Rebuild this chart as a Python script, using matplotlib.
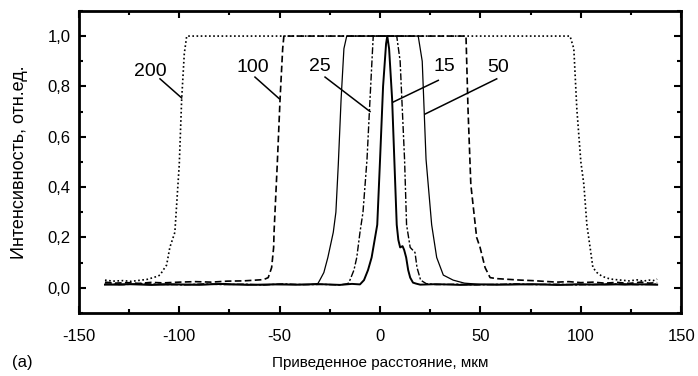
import matplotlib.pyplot as plt
from matplotlib.ticker import MultipleLocator, FuncFormatter

plt.rcParams['font.family'] = ['Liberation Sans', 'DejaVu Sans']
plt.rcParams['axes.unicode_minus'] = False

# profile "200" (dotted)
x200 = [-137, -133, -128, -124, -120, -116, -113, -111, -109.6, -108, -106.3, -104.7,
        -102.2, -100, -98.8, -97.5, -96.3, 0, 94.6, 96.5, 98, 100, 101.5, 103, 104.6,
        106, 108, 110.4, 113, 116, 120, 124, 128, 131, 134, 136, 138]
y200 = [0.03, 0.026, 0.028, 0.025, 0.029, 0.033, 0.04, 0.045, 0.05, 0.07, 0.09, 0.16,
        0.22, 0.49, 0.75, 0.93, 1.0, 1.0, 1.0, 0.95, 0.71, 0.5, 0.41, 0.25, 0.16,
        0.08, 0.06, 0.046, 0.038, 0.033, 0.03, 0.027, 0.031, 0.026, 0.03, 0.028, 0.034]

# profile "100" (dashed)
x100 = [-137, -132, -126, -120, -114, -108, -100, -92, -84, -76, -68, -62, -58, -55.7,
        -54, -53, -52.8, -51.2, -49.8, -48.5, -47.9, 0, 42.8, 43.8, 45.2, 48.1, 49.8,
        52.3, 54.8, 58, 64, 70, 76, 82, 88, 94, 100, 106, 112, 118, 124, 130, 134, 138]
y100 = [0.022, 0.018, 0.02, 0.017, 0.021, 0.019, 0.022, 0.024, 0.022, 0.026, 0.027, 0.03,
        0.032, 0.04, 0.08, 0.16, 0.22, 0.49, 0.75, 0.95, 1.0, 1.0, 1.0, 0.71, 0.41, 0.2, 0.16,
        0.08, 0.04, 0.036, 0.033, 0.03, 0.028, 0.025, 0.022, 0.024, 0.02, 0.022, 0.018,
        0.021, 0.017, 0.022, 0.018, 0.02]

# profile "50" (thin solid)
x50 = [-137, -130, -122, -114, -106, -98, -90, -82, -74, -66, -58, -50, -42, -35, -31,
       -30, -28, -26, -23.3, -22, -20.8, -19.4, -18, -16.6, 0, 19, 21, 22.9, 25.7, 28.2,
       31.5, 36.4, 42, 50, 58, 66, 74, 82, 90, 98, 106, 114, 122, 130, 138]
y50 = [0.013, 0.011, 0.014, 0.012, 0.015, 0.012, 0.011, 0.014, 0.012, 0.013, 0.011, 0.014,
       0.012, 0.013, 0.016, 0.03, 0.06, 0.12, 0.22, 0.3, 0.49, 0.75, 0.95, 1.0, 1.0, 1.0,
       0.9, 0.51, 0.25, 0.12, 0.05, 0.03, 0.018, 0.013, 0.011, 0.014, 0.012, 0.013, 0.011,
       0.014, 0.012, 0.015, 0.011, 0.013, 0.012]

# profile "25" (dash-dot)
x25 = [-137, -128, -118, -108, -98, -88, -78, -68, -58, -48, -38, -28, -20, -16, -15,
       -13, -11.6, -10, -8.5, -6.5, -5, -3.4, 0, 8.3, 10, 12.2, 13.2, 15, 16.2, 17.4,
       18.4, 20.2, 23, 28, 38, 48, 58, 68, 78, 88, 98, 108, 118, 128, 138]
y25 = [0.015, 0.012, 0.016, 0.013, 0.011, 0.015, 0.012, 0.014, 0.011, 0.015, 0.012, 0.013,
       0.011, 0.016, 0.03, 0.07, 0.12, 0.22, 0.3, 0.51, 0.75, 1.0, 1.0, 1.0, 0.9, 0.51,
       0.25, 0.16, 0.15, 0.14, 0.08, 0.03, 0.016, 0.012, 0.014, 0.011, 0.013, 0.015, 0.012,
       0.014, 0.011, 0.013, 0.015, 0.012, 0.014]

# profile "15" (thick solid)
x15 = [-137, -126, -114, -102, -90, -78, -66, -54, -42, -30, -20, -14, -10, -8, -6,
       -4.2, -1.4, 0, 1.5, 3.0, 3.6, 4.5, 6, 7.1, 8.3, 9.1, 10, 11.2, 12, 13, 14, 15,
       16.4, 18, 20, 28, 40, 52, 64, 76, 88, 100, 112, 124, 138]
y15 = [0.012, 0.014, 0.011, 0.013, 0.012, 0.015, 0.011, 0.013, 0.012, 0.014, 0.011, 0.015,
       0.013, 0.03, 0.07, 0.12, 0.25, 0.51, 0.8, 0.97, 1.0, 0.95, 0.75, 0.51, 0.25, 0.19,
       0.16, 0.165, 0.15, 0.12, 0.07, 0.04, 0.02, 0.016, 0.012, 0.014, 0.011, 0.013, 0.012,
       0.014, 0.011, 0.013, 0.012, 0.014, 0.012]

# labels: text position, line start, line tip
labels = ['200', '100', '25', '15', '50']
label_xy = [(-114.6, 0.858), (-63.5, 0.876), (-29.9, 0.879), (31.9, 0.879), (58.9, 0.876)]
label_start = [(-109.6, 0.83), (-62.3, 0.837), (-27.4, 0.837), (29, 0.824), (58.1, 0.83)]
label_tip = [(-98.8, 0.754), (-50.2, 0.751), (-5, 0.70), (6.6, 0.738), (22.4, 0.69)]

fig = plt.figure(figsize=(6.98, 3.76), dpi=100)
ax = fig.add_axes([0.113, 0.168, 0.863, 0.803])

ax.plot(x200, y200, color='black', lw=1.2, ls=(0, (1, 1.5)))
ax.plot(x100, y100, color='black', lw=1.2, ls=(0, (4, 2)))
ax.plot(x50, y50, color='black', lw=0.9)
ax.plot(x25, y25, color='black', lw=1.0, ls=(0, (5, 1.5, 1.5, 1.5)))
ax.plot(x15, y15, color='black', lw=1.4)

for lab, txy, s, t in zip(labels, label_xy, label_start, label_tip):
    ax.text(txy[0], txy[1], lab, ha='center', va='center', fontsize=14)
    ax.plot([s[0], t[0]], [s[1], t[1]], color='black', lw=1.1)

ax.set_xlim(-150, 150)
ax.set_ylim(-0.1, 1.1)
ax.xaxis.set_major_locator(MultipleLocator(50))
ax.xaxis.set_minor_locator(MultipleLocator(25))
ax.yaxis.set_major_locator(MultipleLocator(0.2))
ax.yaxis.set_minor_locator(MultipleLocator(0.1))
ax.yaxis.set_major_formatter(FuncFormatter(lambda v, p: f'{v:.1f}'.replace('.', ',')))
ax.tick_params(which='both', direction='in', top=True, right=True, width=1.5, labelsize=12)
ax.tick_params(which='major', length=5, pad=6)
ax.tick_params(axis='x', which='major', pad=12)
ax.tick_params(which='minor', length=3)
for sp in ax.spines.values():
    sp.set_linewidth(2)

ax.set_xlabel('Приведенное расстояние, мкм', fontsize=11, labelpad=8)
ax.set_ylabel('Интенсивность, отн.ед.', fontsize=13, labelpad=14)
fig.text(0.032, 0.037, '(a)', fontsize=12, va='center', ha='center')

fig.savefig('out.png', dpi=100)
